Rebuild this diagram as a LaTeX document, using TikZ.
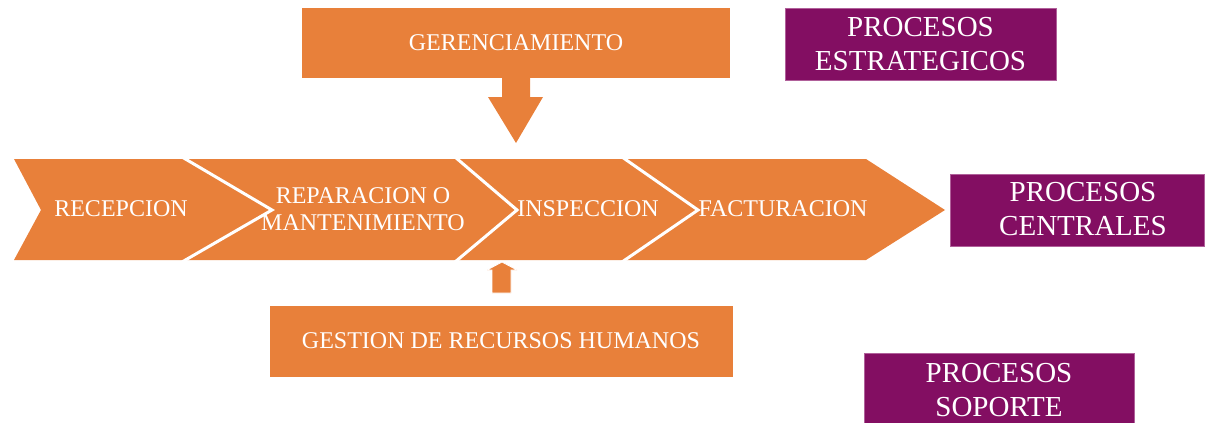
\documentclass[tikz,border=0pt]{standalone}
\usepackage{fontspec}
\setmainfont{Liberation Serif}
\definecolor{orng}{HTML}{E8803A}
\definecolor{purp}{HTML}{830E62}
\definecolor{purpedge}{HTML}{B0609A}
\tikzset{
  otext/.style={text=white, font=\fontsize{24}{27}\selectfont, inner sep=0pt, align=center},
  ptext/.style={text=white, font=\fontsize{29}{34}\selectfont, inner sep=0pt, align=center},
  obox/.style={fill=orng, draw=none},
  pbox/.style={fill=purp, draw=purpedge, line width=0.8pt},
  sep/.style={draw=white, line width=3pt, line join=miter},
}
\begin{document}
\begin{tikzpicture}[x=1pt,y=-1pt]
\useasboundingbox (0,0) rectangle (1205,423);
% strategic
\path[obox] (302,8) rectangle (730,78);
\node[otext] (ger) at (516,43) {GERENCIAMIENTO};
\path[obox] (502,77) -- (530,77) -- (530,97) -- (543,97) -- (516,143) -- (488,97) -- (502,97) -- cycle;
% central band
\path[obox] (14,159) -- (866,159) -- (945,210) -- (866,260) -- (14,260) -- (41,210) -- cycle;
\draw[sep] (182,157) -- (272,210) -- (182,262);
\draw[sep] (455,157) -- (517,210) -- (455,262);
\draw[sep] (622,157) -- (698,210) -- (622,262);
\node[otext] (rec) at (121,209) {RECEPCION};
\node[otext] (rep) at (363,209) {REPARACION O\\MANTENIMIENTO};
\node[otext] (ins) at (588,209) {INSPECCION};
\node[otext] (fac) at (783,209) {FACTURACION};
% support
\path[obox, draw=white, line width=0.8pt] (492,293) -- (511,293) -- (511,270) -- (517,270) -- (502,262) -- (487,270) -- (492,270) -- cycle;
\path[obox] (270,306) rectangle (733,377);
\node[otext] (ges) at (501,341) {GESTION DE RECURSOS HUMANOS};
% legend boxes
\path[pbox] (785,8) rectangle (1056,80);
\node[ptext] (pe) at (920.5,44) {PROCESOS\\ESTRATEGICOS};
\path[pbox] (950,174) rectangle (1204,246);
\node[ptext] (pc) at (1083,209) {PROCESOS\\CENTRALES};
\path[pbox] (864,353) rectangle (1134,424);
\node[ptext] (ps) at (999,390) {PROCESOS\\SOPORTE};
\end{tikzpicture}
\end{document}
